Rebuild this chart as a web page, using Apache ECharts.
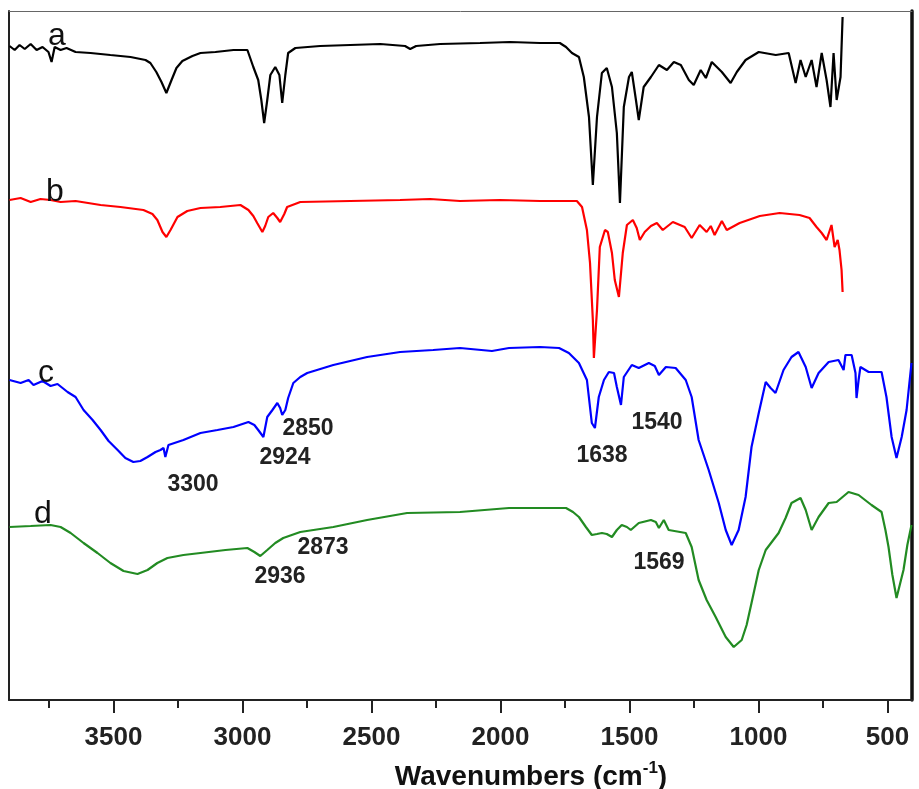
<!DOCTYPE html>
<html>
<head>
<meta charset="utf-8">
<script src="https://cdn.jsdelivr.net/npm/echarts@6/dist/echarts.min.js"></script>
<style>
  html, body { margin: 0; padding: 0; background: #fff; }
  #container { width: 919px; height: 789px; }
</style>
</head>
<body>
<div id="container"></div>
<script>
  // wavenumber (cm-1), transmittance (a.u., curves offset)
  var spectrumA = [
    [3903,654],[3883,650],[3864,655],[3844,651],[3821,656],[3798,650],[3775,653],[3752,648],
    [3740,638],[3728,653],[3705,650],[3682,652],[3647,648],[3589,647],[3512,645],[3434,643],
    [3376,640],[3357,637],[3334,628],[3314,618],[3295,607],[3275,620],[3256,632],
    [3233,639],[3194,644],[3163,647],[3105,648],[3035,650],[2981,650],[2958,633],[2939,620],
    [2927,600],[2916,577],[2904,600],[2892,625],[2873,633],[2857,625],[2846,597],[2834,625],
    [2823,647],[2795,652],[2699,654],[2582,655],[2466,656],[2370,654],[2350,651],[2327,654],
    [2234,656],[2079,657],[1963,658],[1847,657],[1770,657],[1746,653],[1723,647],[1696,643],
    [1677,623],[1657,583],[1642,515],[1626,583],[1607,627],[1588,632],[1568,613],[1549,567],
    [1537,497],[1522,593],[1502,623],[1491,628],[1475,600],[1464,580],[1445,613],[1417,623],
    [1386,635],[1355,630],[1328,638],[1301,635],[1270,620],[1251,615],[1224,630],[1204,622],
    [1181,638],[1142,628],[1108,617],[1084,628],[1050,640],[999,648],[933,645],[883,647],
    [856,617],[837,640],[817,623],[794,640],[775,613],[755,647],[736,620],[721,593],
    [709,647],[697,600],[682,623],[674,683]
  ];
  var spectrumB = [
    [3903,500],[3860,502],[3821,498],[3783,501],[3744,500],[3705,498],[3647,499],[3550,495],
    [3473,493],[3384,490],[3349,486],[3330,480],[3310,468],[3295,463],[3279,470],[3252,483],
    [3214,489],[3163,492],[3086,493],[3008,495],[2977,490],[2958,484],[2943,477],[2923,468],
    [2912,474],[2900,483],[2881,487],[2865,482],[2854,478],[2838,486],[2827,493],[2776,498],
    [2582,499],[2389,500],[2273,501],[2157,499],[2002,500],[1847,499],[1704,499],[1684,493],
    [1665,470],[1653,437],[1642,380],[1638,342],[1626,390],[1615,453],[1595,470],[1584,468],
    [1568,447],[1557,420],[1541,403],[1526,447],[1510,475],[1487,480],[1472,472],[1460,460],
    [1441,468],[1417,474],[1394,477],[1371,470],[1332,478],[1286,473],[1259,462],[1228,475],
    [1201,468],[1185,474],[1170,465],[1142,479],[1123,470],[1073,477],[995,484],[918,487],
    [841,485],[802,482],[775,473],[755,467],[736,460],[717,475],[705,453],[693,460],
    [686,450],[678,430],[674,408]
  ];
  var spectrumC = [
    [3903,320],[3860,317],[3829,320],[3810,315],[3775,319],[3744,314],[3717,316],[3678,308],
    [3647,303],[3616,290],[3581,280],[3550,270],[3519,259],[3484,250],[3454,242],[3423,238],
    [3396,239],[3368,243],[3337,248],[3318,250],[3306,252],[3299,243],[3287,255],[3229,260],
    [3163,267],[3097,270],[3035,273],[2977,278],[2954,275],[2939,270],[2919,263],[2904,283],
    [2884,290],[2865,297],[2854,292],[2846,285],[2834,290],[2823,302],[2803,317],[2776,323],
    [2749,327],[2648,335],[2517,343],[2389,348],[2261,350],[2157,352],[2033,349],[1967,352],
    [1847,353],[1773,352],[1735,347],[1696,337],[1665,320],[1646,277],[1634,272],[1619,303],
    [1599,320],[1580,328],[1560,327],[1549,313],[1533,295],[1522,323],[1491,335],[1464,332],
    [1425,337],[1402,334],[1386,325],[1359,333],[1321,332],[1282,320],[1259,303],[1232,260],
    [1193,230],[1154,197],[1127,170],[1104,155],[1077,170],[1050,203],[1027,253],[999,287],
    [972,318],[953,312],[934,307],[903,330],[872,343],[845,348],[817,333],[794,312],
    [767,327],[728,338],[690,340],[670,330],[663,345],[639,345],[624,327],[620,302],
    [612,320],[605,333],[573,328],[523,328],[504,303],[484,263],[465,242],[445,263],
    [426,290],[407,337]
  ];
  var spectrumD = [
    [3903,173],[3821,174],[3744,175],[3705,173],[3666,167],[3616,157],[3562,147],[3512,137],
    [3461,129],[3407,126],[3368,130],[3330,137],[3291,142],[3229,145],[3163,147],[3066,150],
    [2981,152],[2954,148],[2931,144],[2904,150],[2873,157],[2842,162],[2776,168],[2648,173],
    [2517,180],[2362,187],[2157,188],[1967,192],[1746,192],[1719,188],[1696,183],[1669,173],
    [1646,165],[1626,166],[1607,167],[1588,166],[1568,163],[1549,170],[1530,175],[1510,173],
    [1495,170],[1464,177],[1417,180],[1398,178],[1386,172],[1367,180],[1348,170],[1282,167],
    [1259,153],[1232,120],[1201,100],[1166,83],[1127,63],[1096,53],[1065,60],[1046,75],
    [1027,97],[999,130],[972,150],[922,167],[895,182],[872,197],[837,202],[817,190],
    [794,170],[767,183],[728,197],[697,198],[674,203],[651,208],[612,205],[562,195],
    [523,188],[508,170],[496,153],[481,125],[465,102],[438,130],[423,155],[407,175]
  ];
  var majorTicks = [500, 1000, 1500, 2000, 2500, 3000, 3500];
  var minorTicks = [750, 1250, 1750, 2250, 2750, 3250, 3750];

  var curveLetters = [
    { text: 'a', x: 57, y: 36 },
    { text: 'b', x: 55, y: 192 },
    { text: 'c', x: 46, y: 373 },
    { text: 'd', x: 43, y: 514 }
  ];
  var peakLabels = [
    { text: '3300', x: 193, y: 485 },
    { text: '2924', x: 285, y: 458 },
    { text: '2850', x: 308, y: 429 },
    { text: '2873', x: 323, y: 548 },
    { text: '2936', x: 280, y: 577 },
    { text: '1638', x: 602, y: 456 },
    { text: '1540', x: 657, y: 423 },
    { text: '1569', x: 659, y: 563 }
  ];

  var fontFamily = '"Liberation Sans", Arial, sans-serif';
  var dom = document.getElementById('container');
  var myChart = echarts.init(dom);

  var graphics = [];
  curveLetters.forEach(function (l) {
    graphics.push({
      type: 'text', x: l.x, y: l.y, z: 10,
      style: {
        text: l.text, fill: '#111', font: '32px ' + fontFamily,
        align: 'center', verticalAlign: 'middle', textAlign: 'center', textVerticalAlign: 'middle'
      }
    });
  });
  peakLabels.forEach(function (l) {
    graphics.push({
      type: 'text', x: l.x, y: l.y, z: 10,
      style: {
        text: l.text, fill: '#222', font: 'bold 23px ' + fontFamily,
        align: 'center', verticalAlign: 'middle', textAlign: 'center', textVerticalAlign: 'middle'
      }
    });
  });

  var option = {
    animation: false,
    backgroundColor: '#fff',
    title: {
      text: '{t|Wavenumbers (cm}{s|-1}{t|)}',
      left: 531,
      top: 760,
      textAlign: 'center',
      padding: 0,
      textStyle: {
        rich: {
          t: { fontSize: 28, lineHeight: 34, fontWeight: 'bold', fontFamily: fontFamily, color: '#111' },
          s: { fontSize: 17, fontWeight: 'bold', fontFamily: fontFamily, color: '#111', verticalAlign: 'top' }
        }
      }
    },
    grid: {
      left: 9,
      right: 7,
      top: 11,
      bottom: 89
    },
    xAxis: [
      {
        type: 'value',
        min: 405,
        max: 3905,
        inverse: true,
        position: 'bottom',
        splitLine: { show: false },
        axisLine: { show: true, lineStyle: { color: '#222', width: 2 } },
        axisTick: { show: true, customValues: majorTicks, length: 13, lineStyle: { color: '#222', width: 2 } },
        axisLabel: {
          customValues: majorTicks,
          formatter: function (v) { return String(v); },
          margin: 25,
          fontSize: 26,
          fontWeight: 'bold',
          fontFamily: fontFamily,
          color: '#222'
        }
      },
      {
        type: 'value',
        min: 405,
        max: 3905,
        inverse: true,
        position: 'bottom',
        splitLine: { show: false },
        axisLine: { show: false },
        axisTick: { show: true, customValues: minorTicks, length: 8, lineStyle: { color: '#222', width: 2 } },
        axisLabel: { show: false }
      },
      {
        type: 'value',
        min: 405,
        max: 3905,
        inverse: true,
        position: 'top',
        splitLine: { show: false },
        axisLine: { show: true, lineStyle: { color: '#666', width: 1 } },
        axisTick: { show: false },
        axisLabel: { show: false }
      }
    ],
    yAxis: [
      {
        type: 'value',
        min: 0,
        max: 689,
        position: 'left',
        splitLine: { show: false },
        axisLine: { show: true, lineStyle: { color: '#222', width: 2 } },
        axisTick: { show: false },
        axisLabel: { show: false }
      },
      {
        type: 'value',
        min: 0,
        max: 689,
        position: 'right',
        splitLine: { show: false },
        axisLine: { show: true, lineStyle: { color: '#111', width: 3.5 } },
        axisTick: { show: false },
        axisLabel: { show: false }
      }
    ],
    graphic: graphics,
    series: [
      {
        name: 'a', type: 'line', data: spectrumA, symbol: 'none',
        lineStyle: { color: '#000000', width: 2.2 }, itemStyle: { color: '#000000' }
      },
      {
        name: 'b', type: 'line', data: spectrumB, symbol: 'none',
        lineStyle: { color: '#ff0000', width: 2.2 }, itemStyle: { color: '#ff0000' }
      },
      {
        name: 'c', type: 'line', data: spectrumC, symbol: 'none',
        lineStyle: { color: '#0000ff', width: 2.2 }, itemStyle: { color: '#0000ff' }
      },
      {
        name: 'd', type: 'line', data: spectrumD, symbol: 'none',
        lineStyle: { color: '#228b22', width: 2.2 }, itemStyle: { color: '#228b22' }
      }
    ]
  };

  if (option && typeof option === 'object') {
    myChart.setOption(option, true);
  }
</script>
</body>
</html>
